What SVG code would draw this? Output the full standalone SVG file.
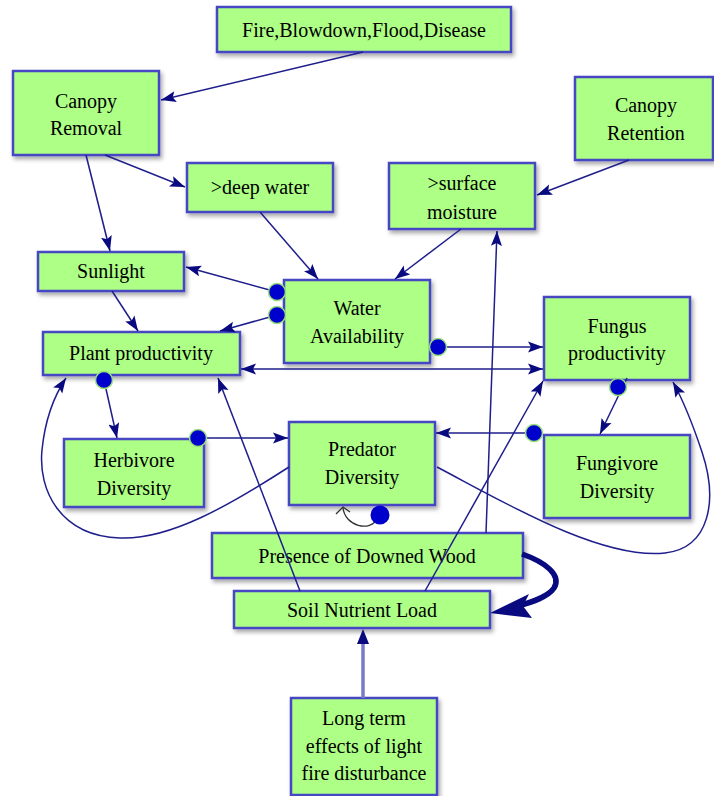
<svg xmlns="http://www.w3.org/2000/svg" width="714" height="796" viewBox="0 0 714 796" font-family="Liberation Serif, serif">
<defs>
<style>
.box{fill:#adff85;stroke:#4646c4;stroke-width:2.5;filter:url(#sh)}
.t{font-size:20px;fill:#000;text-anchor:middle}
.c{fill:none;stroke:#1e1e8c;stroke-width:1.5}
.dot{fill:#0000cc;stroke:#98e07a;stroke-width:1.5}
</style>
<filter id="sh" x="-10%" y="-10%" width="130%" height="140%">
<feDropShadow dx="2" dy="3" stdDeviation="2" flood-color="#000" flood-opacity="0.35"/>
</filter>
<marker id="ah" markerWidth="16" markerHeight="12" refX="15" refY="6" orient="auto-start-reverse" markerUnits="userSpaceOnUse">
<path d="M0,0.5 L15,6 L0,11.5 L3,6 z" fill="#0a0a80"/>
</marker>
</defs>

<g id="n-fire"><rect class="box" x="217" y="7" width="294" height="45"/><text class="t" x="364" y="37">Fire,Blowdown,Flood,Disease</text></g>
<g id="n-canopy-removal"><rect class="box" x="13" y="71" width="146" height="84"/><text class="t" x="86" y="108">Canopy</text><text class="t" x="86" y="135">Removal</text></g>
<g id="n-deep-water"><rect class="box" x="187" y="163" width="146" height="49"/><text class="t" x="260" y="194">&gt;deep water</text></g>
<g id="n-canopy-retention"><rect class="box" x="575" y="77" width="138" height="83"/><text class="t" x="646" y="112">Canopy</text><text class="t" x="646" y="140">Retention</text></g>
<g id="n-surface-moisture"><rect class="box" x="389" y="163" width="146" height="66"/><text class="t" x="462" y="190">&gt;surface</text><text class="t" x="462" y="219">moisture</text></g>
<g id="n-sunlight"><rect class="box" x="38" y="252" width="146" height="39"/><text class="t" x="111" y="278">Sunlight</text></g>
<g id="n-water"><rect class="box" x="284" y="280" width="146" height="83"/><text class="t" x="357" y="315">Water</text><text class="t" x="357" y="343">Availability</text></g>
<g id="n-plant"><rect class="box" x="43" y="332" width="197" height="43"/><text class="t" x="141" y="360">Plant productivity</text></g>
<g id="n-fungus"><rect class="box" x="544" y="297" width="146" height="83"/><text class="t" x="617" y="333">Fungus</text><text class="t" x="617" y="360">productivity</text></g>
<g id="n-herbivore"><rect class="box" x="64" y="439" width="140" height="68"/><text class="t" x="134" y="467">Herbivore</text><text class="t" x="134" y="495">Diversity</text></g>
<g id="n-predator"><rect class="box" x="289" y="422" width="146" height="83"/><text class="t" x="362" y="456">Predator</text><text class="t" x="362" y="484">Diversity</text></g>
<g id="n-fungivore"><rect class="box" x="544" y="435" width="146" height="83"/><text class="t" x="617" y="470">Fungivore</text><text class="t" x="617" y="498">Diversity</text></g>
<g id="n-downed-wood"><rect class="box" x="212" y="533" width="311" height="45"/><text class="t" x="367" y="563">Presence of Downed Wood</text></g>
<g id="n-soil"><rect class="box" x="234" y="591" width="256" height="37"/><text class="t" x="362" y="617">Soil Nutrient Load</text></g>
<g id="n-longterm"><rect class="box" x="291" y="698" width="146" height="97"/><text class="t" x="364" y="725">Long term</text><text class="t" x="364" y="753">effects of light</text><text class="t" x="364" y="780">fire disturbance</text></g>

<g id="connectors">
<path class="c" d="M363,52 L161,100" marker-end="url(#ah)"/>
<path class="c" d="M105,155 L185,187" marker-end="url(#ah)"/>
<path class="c" d="M86,155 L110,251" marker-end="url(#ah)"/>
<path class="c" d="M260,212 L318,279" marker-end="url(#ah)"/>
<path class="c" d="M461,229 L395,279" marker-end="url(#ah)"/>
<path class="c" d="M629,160 L537,195" marker-end="url(#ah)"/>
<path class="c" d="M277,292 L186,267" marker-end="url(#ah)"/>
<path class="c" d="M277,315 L220,331" marker-end="url(#ah)"/>
<path class="c" d="M438,347 L543,347" marker-end="url(#ah)"/>
<path class="c" d="M241,369 L543,369" marker-start="url(#ah)" marker-end="url(#ah)"/>
<path class="c" d="M112,291 L138,331" marker-end="url(#ah)"/>
<path class="c" d="M104,380 L117,438" marker-end="url(#ah)"/>
<path class="c" d="M198,438 L288,438" marker-end="url(#ah)"/>
<path class="c" d="M534,433 L436,433" marker-end="url(#ah)"/>
<path class="c" d="M627,378 L600,434" marker-end="url(#ah)"/>
<path class="c" d="M289,467 C230,505 170,540 120,538 C60,536 38,490 42,450 C45,420 54,396 66,378" marker-end="url(#ah)"/>
<path class="c" d="M437,467 C500,500 600,560 665,553 C710,548 718,500 702,452 C694,428 684,402 673,382" marker-end="url(#ah)"/>
<path class="c" d="M300,591 L218,378" marker-end="url(#ah)"/>
<path class="c" d="M425,591 L543,381" marker-end="url(#ah)"/>
<path class="c" d="M486,533 L497,231" marker-end="url(#ah)"/>
<path d="M363,698 L363,640" fill="none" stroke="#7a7ac8" stroke-width="3.5"/>
<path d="M363,629 L357,644 L369,644 z" fill="#0a0a80"/>
<path d="M522,554 C545,562 562,575 554,588 C548,597 532,602 518,606" fill="none" stroke="#0a0a80" stroke-width="5.5"/>
<polygon points="490,613 529,594 523,606 532,618" fill="#0a0a80"/>
<path d="M343,508 C345,526 370,533 378,518" fill="none" stroke="#333" stroke-width="1.3"/>
<polyline points="336,514 343,507 350,512" fill="none" stroke="#333" stroke-width="1.3"/>
<circle cx="380" cy="515" r="9.5" fill="#0000cc"/>
<circle class="dot" cx="277" cy="292" r="8.5"/>
<circle class="dot" cx="277" cy="315" r="8.5"/>
<circle class="dot" cx="438" cy="347" r="8.5"/>
<circle class="dot" cx="104" cy="380" r="8.5"/>
<circle class="dot" cx="198" cy="438" r="8.5"/>
<circle class="dot" cx="534" cy="433" r="8.5"/>
<circle class="dot" cx="618" cy="387" r="8.5"/>
</g>
</svg>
